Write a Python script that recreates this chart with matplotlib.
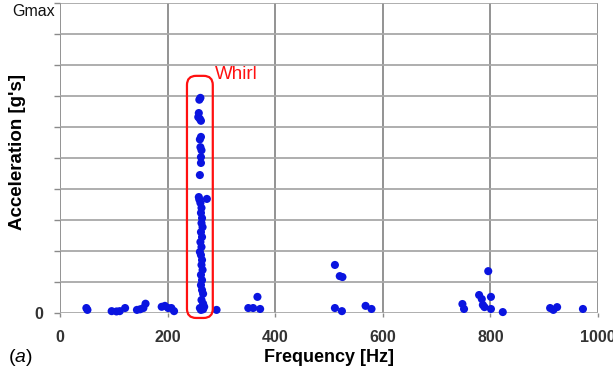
import matplotlib
matplotlib.use("Agg")
import matplotlib.pyplot as plt
from matplotlib.patches import FancyBboxPatch
from matplotlib.transforms import blended_transform_factory

plt.rcParams['font.family'] = ['Liberation Sans', 'DejaVu Sans']
plt.rcParams['mathtext.fontset'] = 'custom'
plt.rcParams['mathtext.it'] = 'Liberation Sans:italic'
plt.rcParams['mathtext.rm'] = 'Liberation Sans'

# Measured peaks: whirl band near 260 Hz plus scattered low-level responses
whirl_freq = [261, 259, 258, 257, 260, 262, 262, 260, 261, 263, 262, 262, 260,
              258, 273, 259, 261, 263, 262, 264, 263, 265, 262, 264, 261, 263,
              260, 262, 264, 263, 265, 262, 264, 262, 264, 266, 263, 266, 260,
              268, 262, 266]
whirl_accel = [6.94, 6.88, 6.45, 6.32, 6.26, 6.20, 5.68, 5.60, 5.35, 5.25, 5.03,
               4.84, 4.45, 3.74, 3.68, 3.66, 3.55, 3.39, 3.23, 3.06, 2.90, 2.77,
               2.61, 2.45, 2.29, 2.13, 1.97, 1.87, 1.71, 1.55, 1.39, 1.23, 1.06,
               0.90, 0.74, 0.62, 0.42, 0.30, 0.16, 0.20, 0.10, 0.12]

other_freq = [49, 51, 96, 105, 111, 121, 143, 149, 155, 159, 189, 195, 201,
              207, 212, 291, 350, 359, 367, 372,
              511, 511, 520, 525, 524, 568, 579,
              748, 751, 779, 784, 786, 789, 796, 801, 801, 823,
              911, 917, 924, 972]
other_accel = [0.16, 0.10, 0.06, 0.05, 0.06, 0.16, 0.10, 0.12, 0.16, 0.30,
               0.20, 0.23, 0.16, 0.16, 0.06, 0.10, 0.16, 0.16, 0.52, 0.13,
               1.55, 0.16, 1.19, 1.16, 0.06, 0.23, 0.13,
               0.29, 0.13, 0.58, 0.45, 0.26, 0.19, 1.35, 0.52, 0.13, 0.03,
               0.16, 0.10, 0.19, 0.13]

x_ticks = [0, 200, 400, 600, 800, 1000]
y_grid = list(range(0, 11))

fig = plt.figure(figsize=(6.13, 3.72), dpi=100)
ax = fig.add_axes([60 / 613, 59 / 372, 538 / 613, 310 / 372])

ax.set_xlim(0, 1000)
ax.set_ylim(0, 10)

ax.set_xticks(x_ticks)
ax.set_xticklabels([str(t) for t in x_ticks])
ax.set_yticks(y_grid)
ax.set_yticklabels(['0'] + [''] * 10)

for t in x_ticks:
    ax.axvline(t, color='#8a8a8a', lw=1.3, zorder=1)
for t in y_grid:
    ax.axhline(t, color='#a8a8a8', lw=1.3, zorder=1)
for s in ax.spines.values():
    s.set_visible(False)

ax.tick_params(axis='x', length=3, width=1, color='#8a8a8a', pad=9,
               labelsize=11.5, labelcolor='#333333')
ax.tick_params(axis='y', length=4, width=1, color='#8a8a8a', pad=8,
               labelsize=11.5, labelcolor='#333333')
for lbl in ax.get_xticklabels() + ax.get_yticklabels():
    lbl.set_fontweight('bold')

ax.scatter(other_freq, other_accel, s=34, color='#0a14e0', edgecolors='none',
           zorder=3, clip_on=False)
ax.scatter(whirl_freq, whirl_accel, s=34, color='#0a14e0', edgecolors='none',
           zorder=3, clip_on=False)

# Rounded outline around the whirl band
box = FancyBboxPatch((236, -0.16), 48, 7.81,
                     boxstyle="round,pad=0,rounding_size=17",
                     mutation_aspect=0.0175,
                     facecolor='none', edgecolor='#ff1010', lw=1.6,
                     zorder=4, clip_on=False)
ax.add_patch(box)
ax.text(288, 7.68, 'Whirl', color='#ff1010', fontsize=13.5,
        ha='left', va='center')

trans = blended_transform_factory(ax.transAxes, ax.transData)
ax.text(-0.009, 9.74, 'Gmax', transform=trans, ha='right', va='center',
        fontsize=11.5, color='#111111')

ax.set_xlabel('Frequency [Hz]', fontsize=13, fontweight='bold', labelpad=3)
fig.text(18 / 613, 1 - 152 / 372, "Acceleration [g's]", rotation=90,
         fontsize=13.5, fontweight='bold', ha='center', va='center')
fig.text(8 / 613, 1 - 357 / 372, r'($\mathit{a}$)', fontsize=14,
         ha='left', va='center')

fig.savefig('out.png', dpi=100)
